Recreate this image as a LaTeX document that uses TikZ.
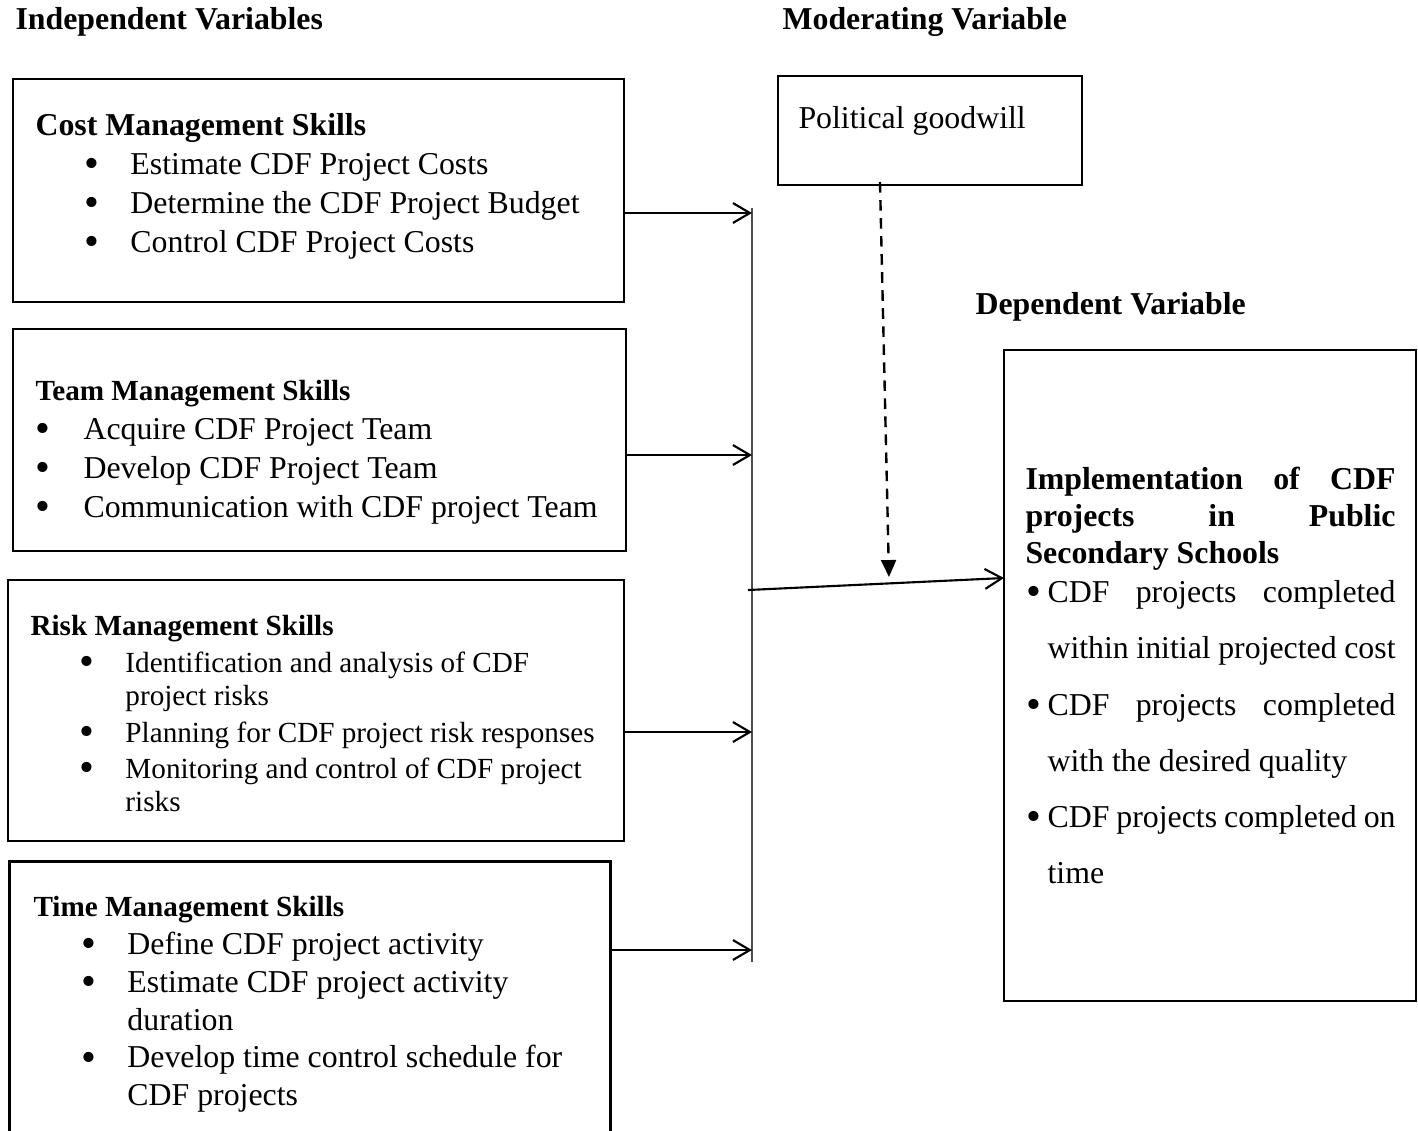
\documentclass[tikz,border=0pt]{standalone}
\usepackage{fontspec}
\setmainfont{Liberation Serif}
\usetikzlibrary{arrows.meta,fit}
\setlength{\parindent}{0pt}
\hbadness=10000
\newcommand{\bmark}{\raisebox{-1.2pt}[0pt][0pt]{\fontsize{16}{16}\selectfont\textbullet}}
\newcommand{\bul}[3]{\hangindent=#2\hangafter=1\makebox[#2][l]{\hspace*{#1}\bmark}#3\par}
\tikzset{
  box/.style={draw, line width=0.8pt, inner sep=0pt},
  txt/.style={inner sep=0pt, anchor=north west, align=left, text width=240pt},
  hd/.style={inner sep=0pt, anchor=west, font=\fontsize{12}{14}\selectfont\bfseries},
  arr/.style={line width=0.8pt, -{Straight Barb[length=6.4pt,width=7.5pt]}},
  mod/.style={line width=0.9pt, dash pattern=on 4pt off 2.8pt, -{Triangle[length=6.4pt,width=5.6pt]}}
}
\begin{document}
\begin{tikzpicture}[x=0.377pt,y=-0.377pt]
      \useasboundingbox (0,0) rectangle (1418,1130);
      \node[hd] (ind) at (15,22) {Independent Variables};
      \node[hd] (modv) at (782,22) {Moderating Variable};
      \node[hd] (depv) at (975,307) {Dependent Variable};
      \node[box, fit={(13,79) (624,302)}] (costbox) {};
      \node[box, fit={(13,329) (626,551)}] (teambox) {};
      \node[box, fit={(8,580) (624,841)}] (riskbox) {};
      \node[inner sep=0pt, fit={(10,862) (610,1140)}] (timebox) {};
      \draw[line width=0.8pt] (timebox.south west) |- (timebox.north east) -- (timebox.south east);
      \node[box, fit={(778,76) (1082,185)}] (polbox) {};
      \node[box, fit={(1004,350) (1416,1001)}] (depbox) {};
      \node[txt, font=\fontsize{12}{14.7}\selectfont] (cost) at (35,113) {\spaceskip=0pt\xspaceskip=0pt%
        \textbf{Cost Management Skills}\par
        \bul{18.6pt}{35.8pt}{Estimate CDF Project Costs}
        \bul{18.6pt}{35.8pt}{Determine the CDF Project Budget}
        \bul{18.6pt}{35.8pt}{Control CDF Project Costs}};
      \node[txt, font=\fontsize{12}{14.7}\selectfont] (team) at (35,380) {\spaceskip=0pt\xspaceskip=0pt%
        {\fontsize{11}{14.7}\selectfont\bfseries Team Management Skills}\par
        \bul{0pt}{18.1pt}{Acquire CDF Project Team}
        \bul{0pt}{18.1pt}{Develop CDF Project Team}
        \bul{0pt}{18.1pt}{Communication with CDF project Team}};
      \node[txt, font=\fontsize{11}{12.5}\selectfont] (risk) at (30,615) {\spaceskip=0pt\xspaceskip=0pt\setlength{\parskip}{1.3pt}%
        \textbf{Risk Management Skills}\par
        \bul{18.4pt}{35.8pt}{Identification and analysis of CDF\newline project risks}
        \bul{18.4pt}{35.8pt}{Planning for CDF project risk responses}
        \bul{18.4pt}{35.8pt}{Monitoring and control of CDF project\newline risks}};
      \node[txt, font=\fontsize{12}{14.25}\selectfont] (time) at (33,896) {\spaceskip=0pt\xspaceskip=0pt%
        {\fontsize{11}{14.25}\selectfont\bfseries Time Management Skills}\par
        \bul{18.2pt}{35.4pt}{Define CDF project activity}
        \bul{18.2pt}{35.4pt}{Estimate CDF project activity\newline duration}
        \bul{18.2pt}{35.4pt}{Develop time control schedule for\newline CDF projects}};
      \node[inner sep=0pt, anchor=west, font=\fontsize{12}{14}\selectfont] (pol) at (798,121) {Political goodwill};
      \node[txt, text width=139.5pt, align=justify, font=\fontsize{12}{13.95}\selectfont\bfseries] (dephead) at (1025,467) {Implementation of CDF\linebreak projects in Public\linebreak Secondary Schools};
      \node[txt, text width=139.5pt, align=justify, font=\fontsize{12}{21.2}\selectfont] (deplist) at (1025,580) {\bul{0.3pt}{8.3pt}{CDF projects completed\linebreak within initial projected cost}
        \bul{0.3pt}{8.3pt}{CDF projects completed\linebreak with the desired quality}
        \bul{0.3pt}{8.3pt}{CDF projects completed on\linebreak time}};
      \coordinate (bartop) at (752,208);
      \coordinate (barbot) at (752,962);
      \coordinate (costin) at (752,213);
      \coordinate (teamin) at (752,455);
      \coordinate (riskin) at (752,732);
      \coordinate (timein) at (752,950);
      \coordinate (out) at (748,590);
      \coordinate (depin) at (1004,578);
      \coordinate (modtop) at (880,182);
      \coordinate (modend) at (889,577);
      \draw[line width=0.5pt, black!70] (bartop) to (barbot);
      \begin{scope}[arr]
        \draw (costbox.east |- costin) to (costin);
        \draw (teambox.east |- teamin) to (teamin);
        \draw (riskbox.east |- riskin) to (riskin);
        \draw (timebox.east |- timein) to (timein);
        \draw (out) to (depin);
      \end{scope}
      \draw[mod] (modtop) to (modend);
    \end{tikzpicture}
\end{document}
